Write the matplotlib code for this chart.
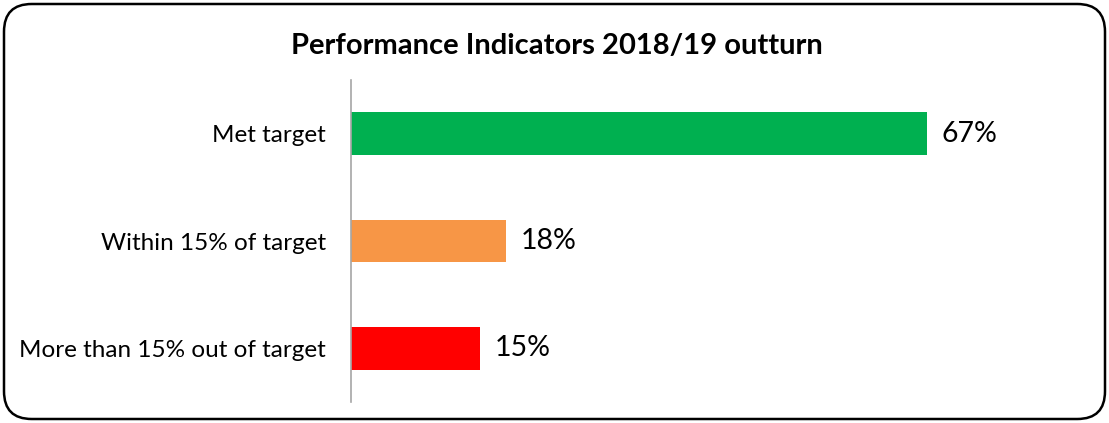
import matplotlib
matplotlib.use("Agg")
import matplotlib.pyplot as plt
from matplotlib.patches import FancyBboxPatch

# data
categories = ["Met target", "Within 15% of target", "More than 15% out of target"]
values = [67, 18, 15]
value_labels = ["67%", "18%", "15%"]
colors = ["#00b050", "#f79646", "#ff0000"]

plt.rcParams['font.family'] = ['Lato', 'DejaVu Sans']

W, H = 1109, 423
fig = plt.figure(figsize=(W / 100, H / 100), dpi=100)

# rounded frame around the chart
frame = FancyBboxPatch((4 / W, 4 / H), 1101 / W, 415 / H,
                       boxstyle="round,pad=0,rounding_size=0.025",
                       transform=fig.transFigure, facecolor="none",
                       edgecolor="black", linewidth=1.8, mutation_aspect=W / H,
                       zorder=0)
fig.patches.append(frame)

ax = fig.add_axes([351 / W, (H - 402) / H, 674 / W, 322 / H])
ax.set_facecolor("none")
ypos = range(len(categories))
ax.barh(ypos, values, height=0.4, color=colors)
ax.set_xlim(0, 674 / 8.6)
ax.set_ylim(2.5, -0.5)

for y, v, lab in zip(ypos, values, value_labels):
    ax.text(v + 1.7, y, lab, va="center", ha="left", fontsize=20.5, color="black")

ax.set_yticks(list(ypos))
ax.set_yticklabels(categories, fontsize=17.5)
ax.tick_params(axis="y", length=0, pad=18)
ax.set_xticks([])
for s in ["top", "right", "bottom"]:
    ax.spines[s].set_visible(False)
ax.spines["left"].set_color("#a6a6a6")
ax.spines["left"].set_linewidth(1.2)

fig.text(557 / W, 1 - 46 / H, "Performance Indicators 2018/19 outturn",
         ha="center", va="center", fontsize=21, fontweight="bold")

fig.savefig("out.png", dpi=100)
